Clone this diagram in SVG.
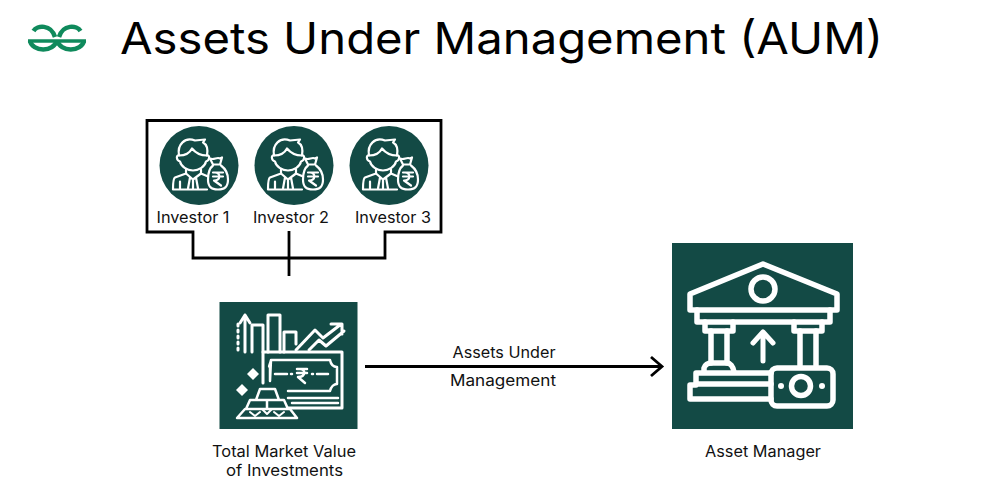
<svg xmlns="http://www.w3.org/2000/svg" xmlns:xlink="http://www.w3.org/1999/xlink" width="1000" height="500" viewBox="0 0 1000 500">
<style>
text{font-family:"Inter","Noto Sans","Liberation Sans",sans-serif;fill:#111;text-anchor:middle}
.title{font-size:44px;fill:#000}
.lab{font-size:15.500px}
.conn{fill:none;stroke:#000;stroke-width:2.800}
.ic{fill:none;stroke:#fff;stroke-width:2.200;stroke-linejoin:round;stroke-linecap:round}
.ict{fill:none;stroke:#fff;stroke-width:3;stroke-linejoin:round;stroke-linecap:round}
.icb{fill:none;stroke:#fff;stroke-width:5.500;stroke-linejoin:round;stroke-linecap:round}
.bg{fill:#134a45}
</style>
<defs>
<g id="inv">
<circle class="bg" cx="0" cy="0" r="39.500"/>
<path class="ic" d="M-20,-10C-23,-11-23,-5-19,-4C-18,1-12,5-6,5C0,5 6,1 7,-4C11,-5 11,-11 8,-10C9,-16 8,-21 4,-23L6,-26L-4,-25C-14,-29-22,-21-20,-10Z"/>
<path class="ic" d="M-20,-10C-14,-10-9,-13-7,-17C-3,-12 2,-10 8,-10"/>
<path class="ic" d="M-13,4V8L-24,12C-26,13-26,18-26,24H8"/>
<path class="ic" d="M2,4V8L9,11"/>
<path class="ic" d="M-13,8L-6,14L2,8M-9,12L-11,23M-3,12L-1,23M-6,14V23M-19,16V23"/>
<path class="ic" d="M14,-1L11,-7C15,-5 18,-9 21,-7L23,-8L21,-1ZM14,0C10,3 9,8 9,14C9,21 12,24 19,24C26,24 29,21 29,14C29,8 26,3 22,0"/>
<path class="ic" d="M14,7H24M14,11H24M16,7C22,7 22,15 15,15L22,20"/>
</g>
</defs>
<g id="logo" fill="none" stroke="#0f8a5c" stroke-width="4.500">
<path d="M28,41H86" stroke-width="3.500"/>
<path d="M33.500,31C37,25 51,24 55,37"/>
<path d="M80.500,31C77,25 63,24 59,37"/>
<path d="M30,41A13.500,10.500 0 0 0 56.500,41"/>
<path d="M84,41A13.500,10.500 0 0 1 57.500,41"/>
</g>
<g id="title"><text class="title" x="501.500" y="54" textLength="763" lengthAdjust="spacingAndGlyphs">Assets Under Management (AUM)</text></g>
<g id="connectors">
<path class="conn" d="M147,120.500H441V232H385V258H193V232H147Z"/>
<path class="conn" d="M289,231V276"/>
<path class="conn" d="M365,366.500H662M651,357L662,366.500L651,376"/>
</g>
<g id="investor-1"><use xlink:href="#inv" href="#inv" x="199" y="165.500"/><text class="lab" x="193" y="223" textLength="73" lengthAdjust="spacingAndGlyphs">Investor 1</text></g>
<g id="investor-2"><use xlink:href="#inv" href="#inv" x="294" y="165.500"/><text class="lab" x="291" y="223" textLength="76" lengthAdjust="spacingAndGlyphs">Investor 2</text></g>
<g id="investor-3"><use xlink:href="#inv" href="#inv" x="389" y="165.500"/><text class="lab" x="393" y="223" textLength="76" lengthAdjust="spacingAndGlyphs">Investor 3</text></g>
<g id="market-value">
<rect class="bg" x="219.500" y="302" width="138" height="127"/>
<g class="ict">
<path d="M245,315V352M240,323L245,315L250,323"/>
<path d="M238,324v2M238,330v2M238,336v2M238,342v2M238,348v2" stroke-width="3"/>
<path d="M252,352V325H263V352M268,352V315H280V352M284,352V332H296V344"/>
<path d="M296,350L315,330L323,338L340,325M331,324H342V334M309,350L319,340L326,346L344,331"/>
<path d="M263,383V352H342V408H288"/>
<path d="M271,360H330C331,365 334,367 337,367V384C334,384 331,387 330,391H288M270,381V367C268,367 270,365 271,360Z" stroke-width="2.500"/>
<path d="M275,374H287M291,374h1M312,374h1M317,374H328" stroke-width="2.500"/>
<path d="M297,369H307M297,373H307M300,369C306,369 306,377 298,377L305,383" stroke-width="2.500"/>
<path d="M288,398H338M292,403H338" stroke-width="2.500"/>
<path d="M260,389H275L279,400H256ZM250,400H284L288,409H246ZM267,400V409M245,409H290L297,418H237Z" stroke-width="2.500"/>
<path d="M262,409L267,414L272,409M250,412L255,416L260,412M274,412L279,416L284,412" stroke-width="2"/>
</g>
<path d="M253,368L259,374L253,380L247,374Z" fill="#fff"/>
<path d="M242,384L248,390L242,396L236,390Z" fill="#fff"/>
<text class="lab" x="284" y="457" textLength="144" lengthAdjust="spacingAndGlyphs">Total Market Value</text>
<text class="lab" x="284.500" y="476" textLength="117" lengthAdjust="spacingAndGlyphs">of Investments</text>
</g>
<g id="asset-manager">
<rect class="bg" x="672" y="243" width="181" height="186"/>
<g class="icb">
<path d="M763,264L690,294V310H837V294Z"/>
<circle cx="763" cy="289" r="12"/>
<path d="M697,310V322H830V310"/>
<path d="M705,322V331H733V322M794,322V331H822V322"/>
<path d="M711,331V363M727,331V363M800,331V365M816,331V365"/>
<path d="M704,372V368C705,365 708,363 711,363H727C730,363 733,366 734,372"/>
<path d="M696,384V373H771M696,384H771M690,385H696M690,385V399H771"/>
<path d="M763,361V332M753,343L763,332L773,343" stroke-width="5"/>
<rect x="771" y="368" width="62" height="38" rx="6"/>
<circle cx="801" cy="386" r="9.500"/>
</g>
<circle cx="781" cy="386" r="3" fill="#fff"/><circle cx="822" cy="386" r="3" fill="#fff"/>
<text class="lab" x="763" y="457" textLength="116" lengthAdjust="spacingAndGlyphs">Asset Manager</text>
</g>
<g id="edge-label"><text class="lab" x="504" y="358" textLength="103" lengthAdjust="spacingAndGlyphs">Assets Under</text><text class="lab" x="503" y="386" textLength="106" lengthAdjust="spacingAndGlyphs">Management</text></g>
</svg>
